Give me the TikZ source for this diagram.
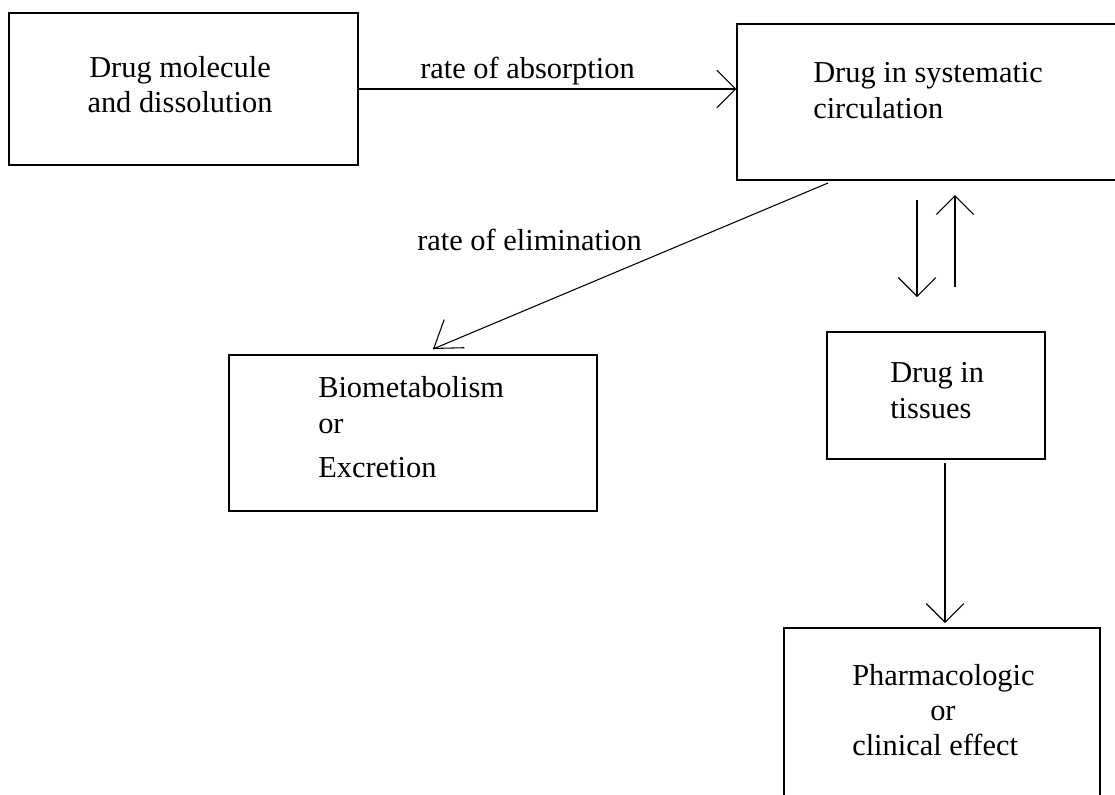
\documentclass[tikz,border=0pt]{standalone}
\usepackage{fontspec}
\setmainfont{Liberation Serif}
\usetikzlibrary{arrows.meta,calc}
\begin{document}
\begin{tikzpicture}[x=0.75pt,y=-0.75pt,
  box/.style={draw, line width=1.1pt, inner sep=0pt},
  txt/.style={inner sep=0pt, anchor=base west, font=\fontsize{22.8}{26}\selectfont},
  barb/.style={-{Straight Barb[length=14pt,width=28pt,line width=0.8pt]}},
  longbarb/.style={-{Straight Barb[length=19pt,width=26pt,line width=0.8pt]}},
  flow/.style={line width=0.8pt, barb}]
\useasboundingbox (0,0) rectangle (1115,794);
\clip (0,0) rectangle (1115,794);
\fill[white] (0,0) rectangle (1115,794);

% boxes
\node[box, minimum width=261.75pt, minimum height=114pt] (mol) at (183.5,89) {};
\node[box, minimum width=294.75pt, minimum height=117pt] (circ) at (933.5,102) {};
\node[box, minimum width=276pt, minimum height=117pt] (bio) at (413,433) {};
\node[box, minimum width=163.5pt, minimum height=95.25pt] (tis) at (936,395.5) {};
\node[box, minimum width=237pt, minimum height=144pt] (eff) at (942,724) {};

% box texts
\node[txt, anchor=base] (mol1) at (180,77) {Drug molecule};
\node[txt, anchor=base] (mol2) at (180,112) {and dissolution};
\node[txt] (circ1) at (813,82) {Drug in systematic};
\node[txt] (circ2) at (813,118) {circulation};
\node[txt] (bio1) at (318,397) {Biometabolism};
\node[txt] (bio2) at (318,433) {or};
\node[txt] (bio3) at (318,477) {Excretion};
\node[txt] (tis1) at (890,382) {Drug in};
\node[txt] (tis2) at (890,418) {tissues};
\node[txt] (eff1) at (852,685) {Pharmacologic};
\node[txt] (eff2) at (930,720) {or};
\node[txt] (eff3) at (852,755) {clinical effect};

% connector labels
\node[txt] (absl) at (420,78) {rate of absorption};
\node[txt] (elil) at (417,250) {rate of elimination};

% connector end points
\coordinate (e0) at (828,183);
\coordinate (e1) at (433,349);
\coordinate (eh) at ($(e1)+(2.43,-1.75)$); % head of the elimination arrow sits a little flatter
\coordinate (d0) at (917,200);
\coordinate (d1) at (917,297);
\coordinate (u0) at (955,287);
\coordinate (u1) at (955,195);
\coordinate (t0) at (945,463);
\coordinate (t1) at (945,623);

% connectors
\draw[flow] (mol.east) -- (mol.east -| circ.west);
\draw[line width=0.8pt] (e0) -- (e1);
\draw[line width=0.8pt, longbarb] (eh) -- (e1);
\draw[flow] (d0) -- (d1);
\draw[flow] (u0) -- (u1);
\draw[flow] (t0) -- (t1);
\end{tikzpicture}
\end{document}
